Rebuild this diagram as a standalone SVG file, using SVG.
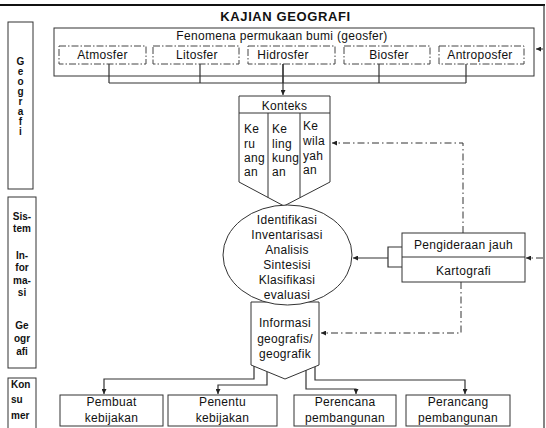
<svg xmlns="http://www.w3.org/2000/svg" width="546" height="428" viewBox="0 0 546 428">
<style>
.t{font-family:"Liberation Sans",Arial,sans-serif;font-size:12px;fill:#111;letter-spacing:.3px}
.c{text-anchor:middle}
.b{font-family:"Liberation Sans",Arial,sans-serif;font-size:10px;font-weight:bold;fill:#111}
.box{fill:#fff;stroke:#333;stroke-width:1}
.dd{fill:#fff;stroke:#444;stroke-width:1;stroke-dasharray:7 2 1.5 2}
.ln{fill:none;stroke:#333;stroke-width:1.2}
.dl{fill:none;stroke:#333;stroke-width:1;stroke-dasharray:7 3 1.5 3}
</style>
<defs>
<marker id="ah" viewBox="0 0 6 6" refX="6" refY="3" markerWidth="5" markerHeight="5" markerUnits="userSpaceOnUse" orient="auto"><path d="M0,0 L6,3 L0,6 z" fill="#222"/></marker>
</defs>
<rect width="546" height="428" fill="#fff"/>
<g id="frame">
<line x1="0" y1="5" x2="545" y2="5" stroke="#111" stroke-width="2"/>
<line x1="544" y1="5" x2="544" y2="428" stroke="#333" stroke-width="1.2"/>
<text class="t c" x="285.5" y="21" style="font-size:13px;font-weight:bold;letter-spacing:.6px">KAJIAN GEOGRAFI</text>
</g>
<g id="side-geografi">
<rect class="box" x="8" y="22" width="25" height="167"/>
<g class="b" text-anchor="middle">
<text x="20.5" y="65">G</text><text x="20.5" y="75">e</text><text x="20.5" y="85">o</text><text x="20.5" y="95">g</text><text x="20.5" y="105">r</text><text x="20.5" y="115">a</text><text x="20.5" y="125">f</text><text x="20.5" y="135">i</text>
</g>
</g>
<g id="side-sig">
<rect class="box" x="8" y="197" width="28" height="171"/>
<g class="b" text-anchor="middle">
<text x="22" y="220">Sis-</text><text x="22" y="232">tem</text>
<text x="22" y="259">In-</text><text x="22" y="271">for</text><text x="22" y="284">ma-</text><text x="22" y="296">si</text>
<text x="22" y="329">Ge</text><text x="22" y="342">ogr</text><text x="22" y="355">afi</text>
</g>
</g>
<g id="side-konsumer">
<rect class="box" x="8" y="378" width="28" height="60"/>
<g class="b"><text x="11" y="388">Kon</text><text x="11" y="403">su</text><text x="11" y="419">mer</text></g>
</g>
<g id="connectors">
<path class="ln" d="M109,64 V83 M200,64 V83 M379,64 V83 M466,64 V83 M109,83 H466"/>
<path class="ln" d="M283,64 V95" marker-end="url(#ah)"/>
<path class="dl" d="M543,49 H536" marker-end="url(#ah)"/>
<path class="dl" d="M543,258 H526" marker-end="url(#ah)"/>
<path class="dl" d="M463,233 V143 H332" marker-end="url(#ah)"/>
<path class="dl" d="M461,282 V333 H321" marker-end="url(#ah)"/>
<path class="ln" d="M402,247 H388 V267 H402"/>
<path class="ln" d="M388,258 H353" marker-end="url(#ah)"/>
<path class="ln" d="M254,366 V379 H104 V394" marker-end="url(#ah)"/>
<path class="ln" d="M267,372 V385 H218 V394" marker-end="url(#ah)"/>
<path class="ln" d="M306,370 V389 H356 V394" marker-end="url(#ah)"/>
<path class="ln" d="M315,367 V380 H465 V394" marker-end="url(#ah)"/>
</g>
<g id="fenomena">
<rect class="box" x="54" y="28" width="480" height="48" style="fill:none"/>
<text class="t c" x="282" y="40">Fenomena permukaan bumi (geosfer)</text>
</g>
<g id="atmosfer"><rect class="dd" x="59" y="46" width="87" height="18"/><text class="t c" x="102.5" y="59">Atmosfer</text></g>
<g id="litosfer"><rect class="dd" x="153" y="46" width="86" height="18"/><text class="t c" x="197" y="59">Litosfer</text></g>
<g id="hidrosfer"><rect class="dd" x="248" y="46" width="87" height="18"/><text class="t c" x="283" y="59">Hidrosfer</text></g>
<g id="biosfer"><rect class="dd" x="344" y="46" width="86" height="18"/><text class="t c" x="389" y="59">Biosfer</text></g>
<g id="antroposfer"><rect class="dd" x="439" y="46" width="85" height="18"/><text class="t c" x="480" y="59">Antroposfer</text></g>
<path class="ln" d="M283,64 V83"/>
<g id="konteks">
<path class="box" d="M239,96 H330 V182 L284,206 L239,182 Z"/>
<path class="box" d="M239,113 H330 M268,113 V197.5 M300,113 V197.5"/>
<text class="t c" x="284.5" y="110">Konteks</text>
<g class="t"><text x="244" y="133">Ke</text><text x="244" y="148">ru</text><text x="244" y="162">ang</text><text x="244" y="176">an</text></g>
<g class="t"><text x="272" y="133">Ke</text><text x="272" y="148">ling</text><text x="272" y="162">kung</text><text x="272" y="176">an</text></g>
<g class="t"><text x="303" y="130">Ke</text><text x="303" y="145">wila</text><text x="303" y="160">yah</text><text x="303" y="174">an</text></g>
</g>
<g id="informasi">
<path class="box" d="M251,302 H319 V365 L285,379 L251,365 Z"/>
<g class="t c"><text x="285" y="327">Informasi</text><text x="285" y="343">geografis/</text><text x="285" y="358">geografik</text></g>
</g>
<g id="proses">
<ellipse class="box" cx="287.5" cy="255" rx="64.5" ry="50"/>
<g class="t c"><text x="287" y="224">Identifikasi</text><text x="287" y="239">Inventarisasi</text><text x="287" y="254">Analisis</text><text x="287" y="269">Sintesisi</text><text x="287" y="284">Klasifikasi</text><text x="287" y="299">evaluasi</text></g>
</g>
<g id="pengideraan">
<rect class="box" x="402" y="233" width="123" height="49"/>
<line x1="402" y1="257" x2="525" y2="257" stroke="#333"/>
<text class="t c" x="463.5" y="249">Pengideraan jauh</text>
<text class="t c" x="463.5" y="275">Kartografi</text>
</g>
<g id="pembuat"><rect class="box" x="60" y="395" width="103" height="31"/><text class="t c" x="111.5" y="406">Pembuat</text><text class="t c" x="111.5" y="422">kebijakan</text></g>
<g id="penentu"><rect class="box" x="168" y="395" width="109" height="31"/><text class="t c" x="222.5" y="406">Penentu</text><text class="t c" x="222.5" y="422">kebijakan</text></g>
<g id="perencana"><rect class="box" x="294" y="395" width="102" height="31"/><text class="t c" x="345" y="406">Perencana</text><text class="t c" x="345" y="422">pembangunan</text></g>
<g id="perancang"><rect class="box" x="406" y="395" width="104" height="31"/><text class="t c" x="458" y="406">Perancang</text><text class="t c" x="458" y="422">pembangunan</text></g>
</svg>
